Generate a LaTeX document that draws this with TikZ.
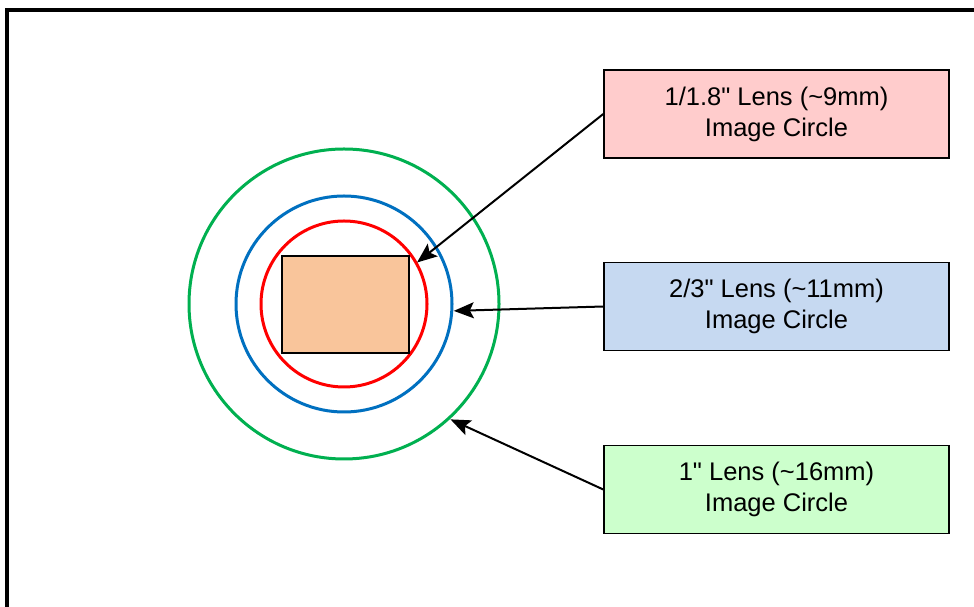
\documentclass[tikz,border=0pt]{standalone}
\usepackage{fontspec}
\setmainfont{Liberation Sans}[Ligatures=TeXOff]
\usetikzlibrary{arrows.meta,calc}
\definecolor{pinkfill}{HTML}{FFCCCC}
\definecolor{bluefill}{HTML}{C6D9F1}
\definecolor{greenfill}{HTML}{CCFFCC}
\definecolor{orangefill}{HTML}{F9C59B}
\definecolor{cgreen}{HTML}{00B050}
\definecolor{cblue}{HTML}{0070C0}
\definecolor{cred}{HTML}{FF0000}
\begin{document}
\begin{tikzpicture}[x=1pt,y=1pt,
  labelbox/.style={draw=black,line width=1.5pt,minimum width=345pt,minimum height=88pt,
    align=center,inner sep=0pt,font=\fontsize{25.5}{31}\selectfont},
  pointer/.style={line width=2pt,-{Stealth[length=20pt,width=16pt,inset=4pt]}},
  ring/.style={line width=3pt}]
\useasboundingbox (0,0) rectangle (974,607);
\fill[white] (0,0) rectangle (974,607);
% frame
\draw[line width=4pt,line join=miter] (7,-10) -- (7,597) -- (990,597);
% circles
\coordinate (c) at (344,303);
\draw[ring,cgreen] (c) circle[radius=155];
\draw[ring,cblue] (c) circle[radius=108];
\draw[ring,cred] (c) circle[radius=83];
\node[draw=black,line width=2pt,fill=orangefill,minimum width=127pt,minimum height=97pt,inner sep=0pt] (sensor) at (345.5,302.5) {};
% label boxes
\node[labelbox,fill=pinkfill] (pink) at (776.5,493) {1/1.8" Lens (\textasciitilde 9mm)\\Image Circle};
\node[labelbox,fill=bluefill] (blue) at (776.5,300.5) {2/3" Lens (\textasciitilde 11mm)\\Image Circle};
\node[labelbox,fill=greenfill] (green) at (776.5,117.5) {1" Lens (\textasciitilde 16mm)\\Image Circle};
% targets
\coordinate (tred) at ($(c)+(29.6:84)$);
\coordinate (tblue) at ($(c)+(-3.6:110)$);
\coordinate (tgreen) at ($(c)+(-47.3:157)$);
\draw[pointer] (pink.west) -- (tred);
\draw[pointer] (blue.west) -- (tblue);
\draw[pointer] (green.west) -- (tgreen);
\end{tikzpicture}
\end{document}
